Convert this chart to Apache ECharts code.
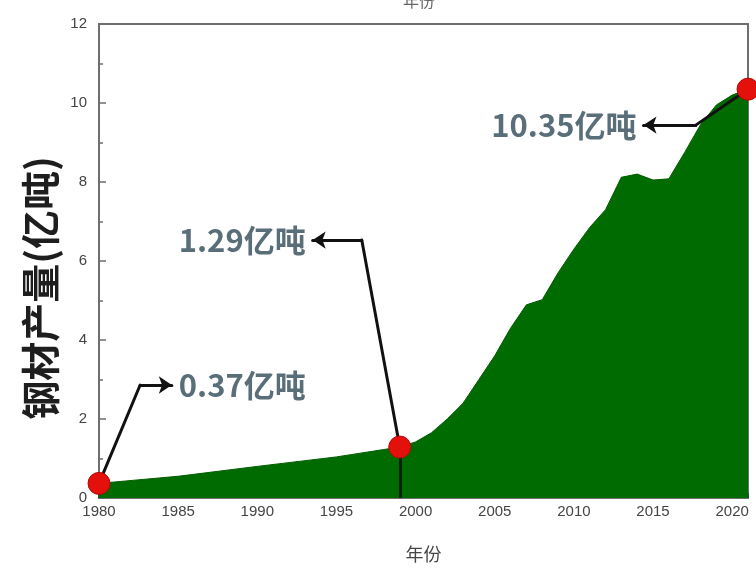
<!DOCTYPE html>
<html>
<head>
<meta charset="utf-8">
<script src="https://cdn.jsdelivr.net/npm/echarts@6/dist/echarts.min.js"></script>
<style>
  html, body { margin: 0; padding: 0; background: #ffffff; }
  #chart { width: 756px; height: 571px; }
</style>
</head>
<body>
<div id="chart"></div>
<script>
// Annual steel output, 亿吨
const years  = [1980, 1985, 1990, 1995, 1999, 2000, 2001, 2002, 2003, 2004, 2005, 2006, 2007, 2008, 2009, 2010,
                2011, 2012, 2013, 2014, 2015, 2016, 2017, 2018, 2019, 2020, 2021];
const output = [0.37, 0.55, 0.80, 1.04, 1.29, 1.42, 1.65, 2.00, 2.40, 3.00, 3.60, 4.30, 4.89, 5.02, 5.70, 6.30,
                6.85, 7.30, 8.12, 8.20, 8.05, 8.08, 8.75, 9.45, 9.95, 10.20, 10.35];

// Highlighted years and their stated values
const markYears  = [1980, 1999, 2021];
const markValues = [0.37, 1.29, 10.35];
const markTexts  = ['0.37亿吨', '1.29亿吨', '10.35亿吨'];

// Axis tick labels
const xTicks = [1980, 1985, 1990, 1995, 2000, 2005, 2010, 2015, 2020];
const yTicks = [0, 2, 4, 6, 8, 10, 12];

const areaData = years.map((y, i) => [y, output[i]]);
const markPts  = markYears.map((y, i) => [y, markValues[i]]);

// Callouts: an elbow leg from the marked point, then an arrowed leg ending at the label
const elbows = [[1982.6, 2.86], [1996.6, 6.53], [2017.7, 9.44]];
const tips   = [[1984.6, 2.86], [1993.5, 6.53], [2014.4, 9.44]];
const labelSide = ['right', 'left', 'left'];

const legLines   = markPts.map((p, i) => ({ coords: [p, elbows[i]] }));
const arrowLines = elbows.map((e, i) => ({ coords: [e, tips[i]] }));
const labelPts   = tips.map((t, i) => ({
  value: t,
  label: { position: labelSide[i], formatter: markTexts[i] }
}));

const axisGrey = '#6e6e6e';
const tickFont = { color: '#444', fontSize: 15, fontFamily: 'Liberation Sans, Arial, sans-serif' };

const chart = echarts.init(document.getElementById('chart'), null, { renderer: 'canvas' });
chart.setOption({
  animation: false,
  backgroundColor: '#ffffff',
  title: {
    text: '年份', left: 398, top: -12,
    textStyle: { color: '#666', fontSize: 16, fontWeight: 'normal', fontFamily: 'Noto Sans CJK SC' }
  },
  grid: {
    left: 99, top: 24, right: 8, bottom: 73,
    show: true, borderColor: axisGrey, borderWidth: 2, backgroundColor: 'transparent'
  },
  xAxis: {
    type: 'value', min: 1980, max: 2021, interval: 5,
    name: '年份', nameLocation: 'middle', nameGap: 47,
    nameTextStyle: { color: '#444', fontSize: 18, fontFamily: 'Noto Sans CJK SC' },
    axisLine: { show: true, lineStyle: { color: axisGrey, width: 2 } },
    axisTick: { show: true, inside: true, length: 5, lineStyle: { color: '#333', width: 1.5 } },
    axisLabel: {
      ...tickFont, margin: 6,
      formatter: v => (xTicks.indexOf(v) >= 0 ? String(v) : '')
    },
    splitLine: { show: false }
  },
  yAxis: {
    type: 'value', min: 0, max: 12, interval: 2,
    name: '钢材产量(亿吨)', nameLocation: 'middle', nameGap: 38, nameRotate: 90,
    nameTextStyle: {
      color: '#1e1e1e', fontSize: 39, fontWeight: 'bold', fontFamily: 'Noto Sans CJK SC',
      padding: [0, 54, 0, 0]
    },
    axisLine: { show: true, lineStyle: { color: axisGrey, width: 2 } },
    axisTick: { show: true, inside: true, length: 7, lineStyle: { color: axisGrey, width: 1.5 } },
    minorTick: { show: true, splitNumber: 2, length: 4, lineStyle: { color: axisGrey, width: 1.5 } },
    axisLabel: {
      ...tickFont, margin: 12,
      formatter: v => (yTicks.indexOf(v) >= 0 ? String(v) : '')
    },
    splitLine: { show: false }
  },
  series: [
    {
      type: 'line',
      data: areaData,
      showSymbol: false,
      lineStyle: { color: '#005c00', width: 1 },
      areaStyle: { color: '#006b00', opacity: 1 },
      markLine: {
        silent: true,
        symbol: ['none', 'none'],
        label: { show: false },
        lineStyle: { color: '#0c200c', width: 3, type: 'solid' },
        data: [[{ coord: [markYears[1], 0] }, { coord: [markYears[1], markValues[1]] }]]
      },
      z: 2
    },
    {
      type: 'lines',
      coordinateSystem: 'cartesian2d',
      data: legLines,
      symbol: ['none', 'none'],
      lineStyle: { color: '#111', width: 3, opacity: 1, cap: 'round', join: 'round' },
      z: 3
    },
    {
      type: 'lines',
      coordinateSystem: 'cartesian2d',
      data: arrowLines,
      symbol: ['none', 'arrow'],
      symbolSize: [0, 13],
      lineStyle: { color: '#111', width: 3, opacity: 1, cap: 'round', join: 'round' },
      z: 3
    },
    {
      type: 'scatter',
      data: markPts,
      symbol: 'circle',
      symbolSize: 22,
      clip: false,
      itemStyle: { color: '#e3100c', borderColor: '#b50a08', borderWidth: 1, opacity: 1 },
      z: 5
    },
    {
      type: 'scatter',
      data: labelPts,
      symbolSize: 0,
      silent: true,
      label: {
        show: true, distance: 7,
        color: '#2f4a58', fontSize: 31, fontWeight: 'bold', fontFamily: 'Noto Sans CJK SC'
      },
      z: 6
    }
  ]
});
</script>
</body>
</html>
